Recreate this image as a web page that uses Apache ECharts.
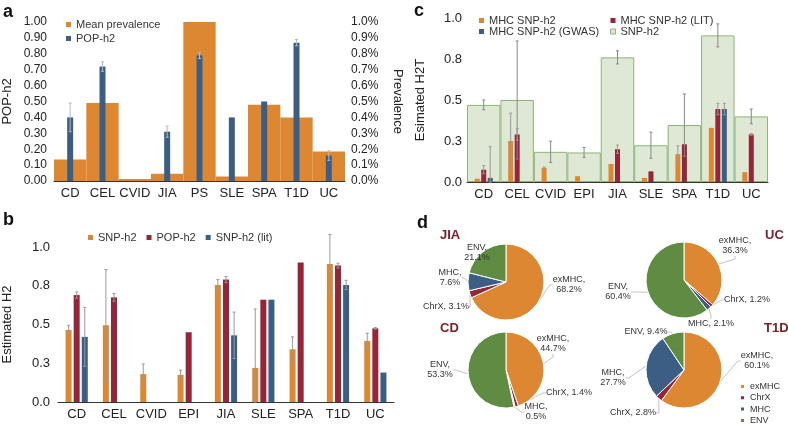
<meta charset="utf-8">
<script src="https://cdn.jsdelivr.net/npm/echarts/dist/echarts.min.js"></script>
<div id="main" style="position:absolute;left:0;top:0;width:788px;height:426px;"></div>
<script>
// panel a
const catsA = ['CD', 'CEL', 'CVID', 'JIA', 'PS', 'SLE', 'SPA', 'T1D', 'UC'];
const prevalence = [0.135, 0.49, 0.012, 0.045, 1.0, 0.028, 0.48, 0.40, 0.185];
const popH2 = [0.40, 0.72, null, 0.31, 0.79, 0.40, 0.50, 0.87, 0.16];
const popH2Err = [0.09, 0.03, null, 0.035, 0.02, 0, 0, 0.02, 0.03];

// panel b
const catsB = ['CD', 'CEL', 'CVID', 'EPI', 'JIA', 'SLE', 'SPA', 'T1D', 'UC'];
const snpH2 = [0.465, 0.495, 0.18, 0.175, 0.755, 0.22, 0.34, 0.89, 0.394];
const snpH2Err = [0.03, 0.36, 0.065, 0.03, 0.035, 0.38, 0.08, 0.19, 0.05];
const popH2b = [0.69, 0.675, null, 0.45, 0.79, 0.66, 0.90, 0.88, 0.475];
const popH2bErr = [0.02, 0.025, null, 0, 0.02, 0, 0, 0.015, 0.005];
const litH2 = [0.42, null, null, null, 0.43, 0.66, null, 0.755, 0.19];
const litH2Err = [0.19, null, null, null, 0.15, 0, null, 0.03, 0];

// panel c
const catsC = catsB;
const snpH2c = [0.47, 0.50, 0.184, 0.18, 0.76, 0.224, 0.347, 0.894, 0.40];
const snpH2cErr = [0.03, 0.36, 0.065, 0.03, 0.04, 0.08, 0.19, 0.07, 0.045];
const mhc = [0.02, 0.25, 0.086, 0.035, 0.11, 0.025, 0.17, 0.33, 0.06];
const mhcErr = [0, 0.17, 0.005, 0, 0, 0, 0.05, 0, 0];
const mhcLit = [0.075, 0.29, null, null, 0.20, 0.065, 0.23, 0.445, 0.29];
const mhcLitErr = [0.025, 0.035, null, null, 0.025, 0, 0, 0.035, 0.005];
const mhcGwas = [0.025, null, null, null, null, null, null, 0.445, null];
const mhcGwasErr = [0.19, null, null, null, null, null, null, 0.035, null];

// panel d
const pieNames = ['exMHC', 'ChrX', 'MHC', 'ENV'];
const pieJIA = [68.2, 3.1, 7.6, 21.1];
const pieUC = [36.3, 1.2, 2.1, 60.4];
const pieCD = [44.7, 1.4, 0.5, 53.3];
const pieT1D = [60.1, 2.8, 27.7, 9.4];

const ORANGE = '#de8732', BLUE = '#3c5e84', RED = '#952538', GREEN = '#5f8b43';
const FONT = 'Liberation Sans';
const TXT = '#222';

let myChart = echarts.init(main);

const errBar = (xi, yi, vals, errs, slot, n, step, color) => ({
  type: 'custom', xAxisIndex: xi, yAxisIndex: yi, z: 5, silent: true,
  data: vals.map((v, i) => (v == null || !errs[i]) ? null : [i, Math.max(0, v - errs[i]), v + errs[i]]).filter(d => d),
  renderItem: (params, api) => {
    const lo = api.coord([api.value(0), api.value(1)]);
    const hi = api.coord([api.value(0), api.value(2)]);
    const x = lo[0] + (slot - (n - 1) / 2) * step;
    const st = {stroke: color, lineWidth: 1};
    return {type: 'group', children: [
      {type: 'line', shape: {x1: x, y1: lo[1], x2: x, y2: hi[1]}, style: st},
      {type: 'line', shape: {x1: x - 1.5, y1: hi[1], x2: x + 1.5, y2: hi[1]}, style: st},
      {type: 'line', shape: {x1: x - 1.5, y1: lo[1], x2: x + 1.5, y2: lo[1]}, style: st},
    ]};
  }
});

const catAxis = (grid, data, show) => ({
  type: 'category', gridIndex: grid, data: data, show: show,
  axisLine: {lineStyle: {color: '#333'}}, axisTick: {show: false},
  axisLabel: {color: TXT, fontSize: 13, fontFamily: FONT, margin: 6, interval: 0}
});
const valAxis = (grid, extra) => Object.assign({
  type: 'value', gridIndex: grid, min: 0, max: 1,
  splitLine: {show: false}, axisLine: {show: false}, axisTick: {show: false},
  nameLocation: 'middle', nameTextStyle: {color: TXT, fontSize: 13, fontFamily: FONT},
  axisLabel: {color: TXT, fontSize: 12, fontFamily: FONT}
}, extra);

// pie centres and where each slice label sits relative to the centre
const pies = [
  {vals: pieJIA, c: [506, 282], oneLine: ['ChrX'], lab: [[63, 3], [-60, 25], [-56, -4], [-29, -29]]},
  {vals: pieUC, c: [684, 280], oneLine: ['ChrX', 'MHC'], lab: [[51, -34], [63, 20], [27, 44], [-66, 12]]},
  {vals: pieCD, c: [506, 370], oneLine: ['ChrX'], lab: [[47, -26], [63, 23], [30, 42], [-66, 0]]},
  {vals: pieT1D, c: [684, 370], oneLine: ['ChrX', 'ENV'], lab: [[73, -9], [-51, 43], [-71, 8], [-38, -38]]}
];
const pieSeries = pies.map((p, k) => ({
  type: 'pie', center: p.c, radius: 38, startAngle: 90,
  itemStyle: {borderColor: '#fff', borderWidth: 1},
  label: {
    color: '#333', fontSize: 9, fontFamily: FONT, lineHeight: 10,
    formatter: d => d.name + ',' + (p.oneLine.includes(d.name) ? ' ' : '\n') + d.value.toFixed(1) + '%'
  },
  labelLine: {length: 8, length2: 3, lineStyle: {color: '#c4c4c4', width: 1}},
  labelLayout: prm => {
    const o = p.lab[prm.dataIndex];
    return {x: p.c[0] + o[0], y: p.c[1] + o[1], align: 'center', verticalAlign: 'middle'};
  },
  data: pieNames.map((n, i) => ({name: n, value: p.vals[i], itemStyle: {color: [ORANGE, RED, BLUE, GREEN][i]}}))
}));

const legTxt = {color: '#333', fontSize: 11, fontFamily: FONT};
const letter = (t, l, top) => ({text: t, left: l, top: top, padding: 0, textStyle: {fontSize: 18, fontWeight: 'bold', color: '#111', fontFamily: FONT}});
const pieTitle = (t, l, top) => ({text: t, left: l, top: top, padding: 0, textStyle: {fontSize: 13, fontWeight: 'bold', color: '#7a2128', fontFamily: FONT}});

myChart.setOption({
  backgroundColor: '#fff',
  animation: false,
  title: [
    letter('a', 3, 3), letter('b', 3, 211), letter('c', 414, 2), letter('d', 417, 214),
    pieTitle('JIA', 440, 229), pieTitle('UC', 765, 229), pieTitle('CD', 440, 322), pieTitle('T1D', 764, 322)
  ],
  legend: [
    {left: 66, top: 19, padding: 0, orient: 'vertical', itemGap: 3, itemWidth: 5, itemHeight: 5, icon: 'rect', textStyle: legTxt,
     data: ['Mean prevalence', {name: 'POP-h2', itemStyle: {color: BLUE}}]},
    {left: 88, top: 232, padding: 0, itemGap: 10, itemWidth: 5, itemHeight: 5, icon: 'rect', textStyle: legTxt,
     data: [{name: 'SNP-h2', itemStyle: {color: ORANGE}}, {name: 'POP-h2', itemStyle: {color: RED}}, 'SNP-h2 (lit)']},
    {left: 479, top: 15, padding: 0, orient: 'vertical', itemGap: 0, itemWidth: 5, itemHeight: 5, icon: 'rect', textStyle: legTxt,
     data: ['MHC SNP-h2', 'MHC SNP-h2 (GWAS)']},
    {left: 610, top: 15, padding: 0, orient: 'vertical', itemGap: 0, itemWidth: 5, itemHeight: 5, icon: 'rect', textStyle: legTxt,
     data: ['MHC SNP-h2 (LIT)', {name: 'SNP-h2', itemStyle: {color: '#dfe8d5', borderColor: '#8fb27a', borderWidth: 1}}]},
    {left: 739, top: 382, padding: 0, orient: 'vertical', itemGap: 2.3, itemWidth: 5, itemHeight: 5, icon: 'rect',
     textStyle: {color: '#333', fontSize: 9, fontFamily: FONT}, data: pieNames}
  ],
  grid: [
    {left: 52, top: 22, width: 293, height: 159},
    {left: 53, top: 247, width: 341, height: 155},
    {left: 467, top: 18, width: 301, height: 164}
  ],
  xAxis: [
    catAxis(0, catsA, true), catAxis(0, catsA, false),
    catAxis(1, catsB, true),
    catAxis(2, catsC, true), catAxis(2, catsC, false)
  ],
  yAxis: [
    valAxis(0, {interval: 0.1, name: 'POP-h2', nameGap: 40, axisLabel: {color: TXT, fontSize: 12, fontFamily: FONT, margin: 7, formatter: v => v.toFixed(2)}}),
    valAxis(0, {position: 'right', interval: 0.1, name: 'Prevalence', nameRotate: -90, nameGap: 46, axisLabel: {color: TXT, fontSize: 12, fontFamily: FONT, margin: 6, formatter: v => v.toFixed(1) + '%'}}),
    valAxis(1, {interval: 0.25, name: 'Estimated H2', nameGap: 44, axisLabel: {color: TXT, fontSize: 13, fontFamily: FONT, margin: 8, formatter: v => v.toFixed(1)}}),
    valAxis(2, {interval: 0.25, name: 'Esimated H2T', nameGap: 40, axisLabel: {color: TXT, fontSize: 13, fontFamily: FONT, margin: 5, formatter: v => v.toFixed(1)}})
  ],
  series: [
    // a
    {type: 'bar', name: 'Mean prevalence', xAxisIndex: 0, yAxisIndex: 1, data: prevalence, barCategoryGap: 0, itemStyle: {color: ORANGE}},
    {type: 'bar', name: 'POP-h2', xAxisIndex: 1, yAxisIndex: 0, data: popH2, barWidth: 6, itemStyle: {color: BLUE}},
    errBar(1, 0, popH2, popH2Err, 0, 1, 0, '#b5b9c0'),
    // b
    {type: 'bar', name: 'SNP-h2', xAxisIndex: 2, yAxisIndex: 2, data: snpH2, barWidth: 6, barGap: '35%', itemStyle: {color: ORANGE}},
    {type: 'bar', name: 'POP-h2', xAxisIndex: 2, yAxisIndex: 2, data: popH2b, barWidth: 6, barGap: '35%', itemStyle: {color: RED}},
    {type: 'bar', name: 'SNP-h2 (lit)', xAxisIndex: 2, yAxisIndex: 2, data: litH2, barWidth: 6, barGap: '35%', itemStyle: {color: BLUE}},
    errBar(2, 2, snpH2, snpH2Err, 0, 3, 8.1, '#999'),
    errBar(2, 2, popH2b, popH2bErr, 1, 3, 8.1, '#999'),
    errBar(2, 2, litH2, litH2Err, 2, 3, 8.1, '#999'),
    // c
    {type: 'bar', name: 'SNP-h2', xAxisIndex: 3, yAxisIndex: 3, data: snpH2c, barCategoryGap: 0,
     itemStyle: {color: '#dfe8d5', borderColor: '#8fb27a', borderWidth: 1}},
    {type: 'bar', name: 'MHC SNP-h2', xAxisIndex: 4, yAxisIndex: 3, data: mhc, barWidth: 5, barGap: '30%', itemStyle: {color: ORANGE}},
    {type: 'bar', name: 'MHC SNP-h2 (LIT)', xAxisIndex: 4, yAxisIndex: 3, data: mhcLit, barWidth: 5, barGap: '30%', itemStyle: {color: RED}},
    {type: 'bar', name: 'MHC SNP-h2 (GWAS)', xAxisIndex: 4, yAxisIndex: 3, data: mhcGwas, barWidth: 5, barGap: '30%', itemStyle: {color: BLUE}},
    errBar(3, 3, snpH2c, snpH2cErr, 0, 1, 0, '#888'),
    errBar(4, 3, mhc, mhcErr, 0, 3, 6.5, '#999'),
    errBar(4, 3, mhcLit, mhcLitErr, 1, 3, 6.5, '#999'),
    errBar(4, 3, mhcGwas, mhcGwasErr, 2, 3, 6.5, '#999'),
    // d
    ...pieSeries
  ]
});
</script>
